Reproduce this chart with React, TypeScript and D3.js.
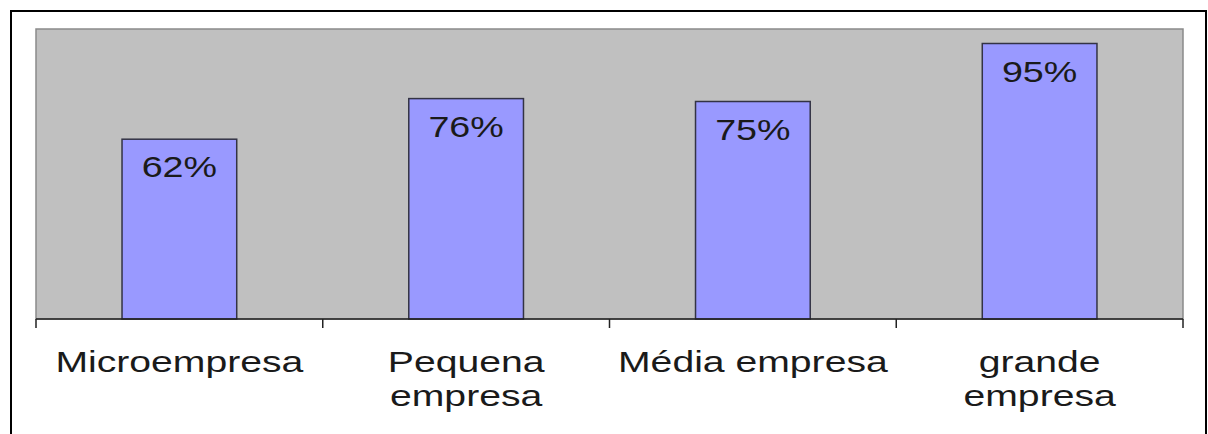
import React from "react";
import * as d3 from "d3";

const categories: string[][] = [["Microempresa"], ["Pequena", "empresa"], ["Média empresa"], ["grande", "empresa"]];
const values: number[] = [62, 76, 75, 95];
const valueLabels: string[] = ["62%", "76%", "75%", "95%"];

const W = 1208;
const H = 434;
const plot = { left: 36, right: 1183, top: 29, bottom: 319 };

export default function App() {
  const x = d3
    .scaleBand<number>()
    .domain(values.map((_, i) => i))
    .range([plot.left, plot.right])
    .paddingInner(0.6)
    .paddingOuter(0.3);
  const y = d3.scaleLinear().domain([0, 100]).range([plot.bottom, plot.top]);
  const band = (plot.right - plot.left) / values.length;
  const ticks = d3.range(values.length + 1).map((i) => plot.left + i * band);

  const txt = (cx: number, cy: number, s: string, key: any, size: number, sx: number) => (
    <text
      key={key}
      transform={`translate(${cx},${cy}) scale(${sx},1)`}
      textAnchor="middle"
      fontFamily="'Liberation Sans', Arial, sans-serif"
      fontSize={size}
      fill="#1a1a1a"
    >
      {s}
    </text>
  );

  return (
    <svg
      width={W}
      height={H}
      style={{ position: "absolute", left: 0, top: 0, display: "block" }}
    >
      <rect x={0} y={0} width={W} height={H} fill="#fff" />
      <rect x={11} y={11} width={1195} height={440} fill="none" stroke="#000" strokeWidth={2} />
      <rect
        x={plot.left}
        y={plot.top}
        width={plot.right - plot.left}
        height={plot.bottom - plot.top}
        fill="#C0C0C0"
        stroke="#8a8a8a"
        strokeWidth={1.5}
      />
      {values.map((v, i) => (
        <rect
          key={i}
          x={x(i)!}
          y={y(v)}
          width={x.bandwidth()}
          height={plot.bottom - y(v)}
          fill="#9999FF"
          stroke="#333344"
          strokeWidth={1.5}
        />
      ))}
      {values.map((v, i) => txt(x(i)! + x.bandwidth() / 2, y(v) + 38, valueLabels[i], "v" + i, 29, 1.3))}
      <line x1={plot.left} x2={plot.right} y1={plot.bottom} y2={plot.bottom} stroke="#222" strokeWidth={1.5} />
      {ticks.map((t, i) => (
        <line key={i} x1={t} x2={t} y1={plot.bottom} y2={plot.bottom + 9} stroke="#222" strokeWidth={1.5} />
      ))}
      {categories.map((lines, i) =>
        lines.map((l, j) => txt(plot.left + (i + 0.5) * band, 372 + j * 34, l, `c${i}-${j}`, 29, 1.35))
      )}
    </svg>
  );
}
